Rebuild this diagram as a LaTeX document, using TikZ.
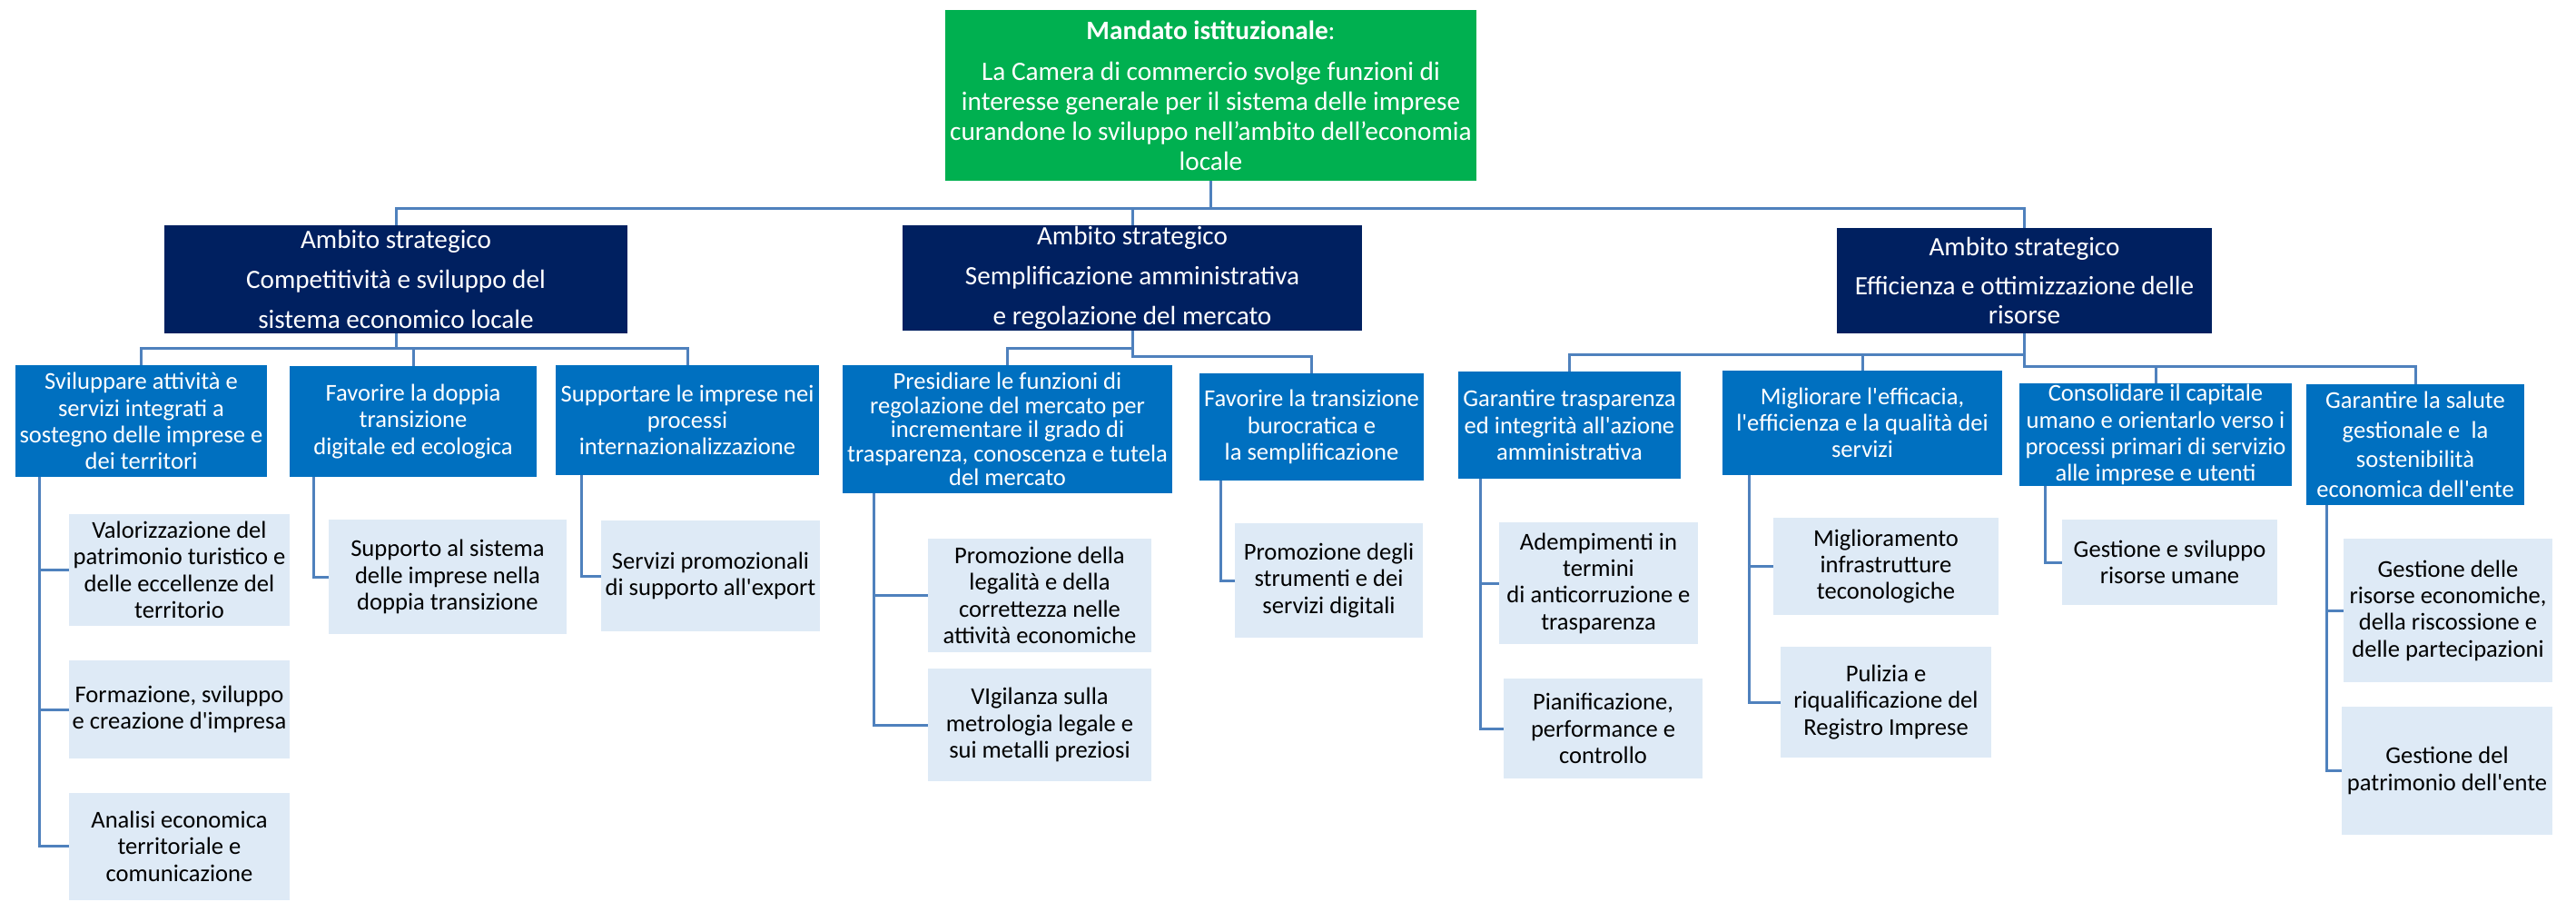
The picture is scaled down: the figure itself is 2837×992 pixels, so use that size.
\documentclass[tikz,border=0pt]{standalone}
\usepackage{fontspec}
\setmainfont{Carlito}
\usepackage{tikz}
\newcommand{\apo}{\textquotesingle}

\begin{document}
\begin{tikzpicture}[x=0.5pt,y=0.5pt,yscale=-1,xscale=1,
  box/.style={rectangle, inner sep=0pt, outer sep=0pt, align=center},
  mandatobox/.style={box, fill={rgb, 255:red, 0; green, 176; blue, 80 }, text=white, font={\fontsize{14.65}{16.5}\selectfont}},
  ambitobox/.style={box, fill={rgb, 255:red, 0; green, 32; blue, 96 }, text=white, font={\fontsize{14.6}{16}\selectfont}},
  obiettivobox/.style={box, fill={rgb, 255:red, 0; green, 112; blue, 192 }, text=white, font={\fontsize{13.3}{14.6}\selectfont}},
  azionebox/.style={box, fill={rgb, 255:red, 222; green, 234; blue, 246 }, text=black, font={\fontsize{13.3}{14.7}\selectfont}},
  conn/.style={draw={rgb, 255:red, 79; green, 129; blue, 189 }, line width=1.5pt},
]
\useasboundingbox (0,0) rectangle (2837,992);

%Shape: Rectangle - mandato
\node[mandatobox, minimum width=292.5pt, minimum height=94pt] (mandato) at (1333.5,105) {\textbf{Mandato istituzionale}:\\[6pt]La Camera di commercio svolge funzioni di\\interesse generale per il sistema delle imprese\\curandone lo sviluppo nell’ambito dell’economia\\locale};

%Shape: Rectangle - ambiti strategici
\node[ambitobox, minimum width=255pt, minimum height=59.5pt] (amb1) at (436,307.5) {Ambito strategico\\[6pt]Competitività e sviluppo del\\[6pt]sistema economico locale};
\node[ambitobox, minimum width=253pt, minimum height=58pt] (amb2) at (1247,306) {Ambito strategico\\[6pt]Semplificazione amministrativa\\[6pt]e regolazione del mercato};
\node[ambitobox, minimum width=206.5pt, minimum height=58pt] (amb3) at (2229.5,309) {Ambito strategico\\[5.5pt]Efficienza e ottimizzazione delle\\risorse};

%Shape: Rectangle - obiettivi
\node[obiettivobox, minimum width=138.5pt, minimum height=61.5pt] (ob11) at (155.5,463.5) {Sviluppare attività e\\servizi integrati a\\sostegno delle imprese e\\dei territori};
\node[obiettivobox, minimum width=136pt, minimum height=61pt] (ob12) at (455,464) {Favorire la doppia\\transizione\\digitale ed ecologica};
\node[obiettivobox, minimum width=145pt, minimum height=60.5pt] (ob13) at (757,462.5) {Supportare le imprese nei\\processi\\internazionalizzazione};
\node[obiettivobox, minimum width=181.5pt, minimum height=70.5pt, font={\fontsize{13.3}{13.3}\selectfont}] (ob21) at (1109.5,472.5) {Presidiare le funzioni di\\regolazione del mercato per\\incrementare il grado di\\trasparenza, conoscenza e tutela\\del mercato};
\node[obiettivobox, minimum width=123.5pt, minimum height=59pt] (ob22) at (1444.5,470) {Favorire la transizione\\burocratica e\\la semplificazione};
\node[obiettivobox, minimum width=122.5pt, minimum height=59pt] (ob31) at (1728.5,468) {Garantire trasparenza\\ed integrità all\apo azione\\amministrativa};
\node[obiettivobox, minimum width=154pt, minimum height=57.5pt] (ob32) at (2051,465.5) {Migliorare l\apo efficacia,\\l\apo efficienza e la qualità dei\\servizi};
\node[obiettivobox, minimum width=150pt, minimum height=56.5pt] (ob33) at (2374,478.5) {Consolidare il capitale\\umano e orientarlo verso i\\processi primari di servizio\\alle imprese e utenti};
\node[obiettivobox, minimum width=120pt, minimum height=66.5pt, font={\fontsize{13.3}{16.3}\selectfont}] (ob34) at (2660,489.5) {Garantire la salute\\gestionale e \ la\\sostenibilità\\economica dell\apo ente};

%Shape: Rectangle - azioni
\node[azionebox, minimum width=121.5pt, minimum height=61.5pt] (az111) at (197.5,627.5) {Valorizzazione del\\patrimonio turistico e\\delle eccellenze del\\territorio};
\node[azionebox, minimum width=121.5pt, minimum height=54pt] (az112) at (197.5,781) {Formazione, sviluppo\\e creazione d\apo impresa};
\node[azionebox, minimum width=121.5pt, minimum height=59pt] (az113) at (197.5,931.5) {Analisi economica\\territoriale e\\comunicazione};
\node[azionebox, minimum width=131pt, minimum height=63pt] (az121) at (493,635) {Supporto al sistema\\delle imprese nella\\doppia transizione};
\node[azionebox, minimum width=120.5pt, minimum height=61pt] (az131) at (782.5,634) {Servizi promozionali\\di supporto all\apo export};
\node[azionebox, minimum width=123pt, minimum height=62.5pt] (az211) at (1145,655.5) {Promozione della\\legalità e della\\correttezza nelle\\attività economiche};
\node[azionebox, minimum width=123pt, minimum height=62pt] (az212) at (1145,798) {VIgilanza sulla\\metrologia legale e\\sui metalli preziosi};
\node[azionebox, minimum width=103.5pt, minimum height=63pt] (az221) at (1463.5,639) {Promozione degli\\strumenti e dei\\servizi digitali};
\node[azionebox, minimum width=109.5pt, minimum height=67pt] (az311) at (1760.5,642) {Adempimenti in\\termini\\di anticorruzione e\\trasparenza};
\node[azionebox, minimum width=109.5pt, minimum height=55pt] (az312) at (1765.5,802) {Pianificazione,\\performance e\\controllo};
\node[azionebox, minimum width=124pt, minimum height=53.5pt] (az321) at (2077,623.5) {Miglioramento\\infrastrutture\\teconologiche};
\node[azionebox, minimum width=116pt, minimum height=61pt] (az322) at (2077,773) {Pulizia e\\riqualificazione del\\Registro Imprese};
\node[azionebox, minimum width=118.5pt, minimum height=47pt] (az331) at (2389.5,619) {Gestione e sviluppo\\risorse umane};
\node[azionebox, minimum width=115pt, minimum height=79pt] (az341) at (2696,672) {Gestione delle\\risorse economiche,\\della riscossione e\\delle partecipazioni};
\node[azionebox, minimum width=116pt, minimum height=70.5pt] (az342) at (2695,848.5) {Gestione del\\patrimonio dell\apo ente};

%Straight Lines - mandato to ambiti
\draw[conn] (mandato.south) -- ++(0,30) -| (amb1.north);
\draw[conn] (mandato.south) -- ++(0,30) -| (amb2.north);
\draw[conn] (mandato.south) -- ++(0,30) -| (amb3.north);

%Straight Lines - ambiti to obiettivi
\draw[conn] (amb1.south) -- ++(0,16) -| (ob11.north);
\draw[conn] (amb1.south) -- ++(0,16) -| (ob12.north);
\draw[conn] (amb1.south) -- ++(0,16) -| (ob13.north);
\draw[conn] (amb2.south) -- ++(0,19) -| (ob21.north);
\draw[conn] (amb2.south) -- ++(0,28) -| (ob22.north);
\draw[conn] (amb3.south) -- ++(0,23) -| (ob31.north);
\draw[conn] (amb3.south) -- ++(0,23) -| (ob32.north);
\draw[conn] (amb3.south) -- ++(0,36) -| (ob33.north);
\draw[conn] (amb3.south) -- ++(0,36) -| (ob34.north);

%Straight Lines - obiettivi to azioni
\draw[conn] ([xshift=13pt]ob11.south west) |- (az111.west);
\draw[conn] ([xshift=13pt]ob11.south west) |- (az112.west);
\draw[conn] ([xshift=13pt]ob11.south west) |- (az113.west);
\draw[conn] ([xshift=13pt]ob12.south west) |- (az121.west);
\draw[conn] ([xshift=14pt]ob13.south west) |- (az131.west);
\draw[conn] ([xshift=17pt]ob21.south west) |- (az211.west);
\draw[conn] ([xshift=17pt]ob21.south west) |- (az212.west);
\draw[conn] ([xshift=11.5pt]ob22.south west) |- (az221.west);
\draw[conn] ([xshift=12pt]ob31.south west) |- (az311.west);
\draw[conn] ([xshift=12pt]ob31.south west) |- (az312.west);
\draw[conn] ([xshift=14.5pt]ob32.south west) |- (az321.west);
\draw[conn] ([xshift=14.5pt]ob32.south west) |- (az322.west);
\draw[conn] ([xshift=14pt]ob33.south west) |- (az331.west);
\draw[conn] ([xshift=11pt]ob34.south west) |- (az341.west);
\draw[conn] ([xshift=11pt]ob34.south west) |- (az342.west);

\end{tikzpicture}
\end{document}
